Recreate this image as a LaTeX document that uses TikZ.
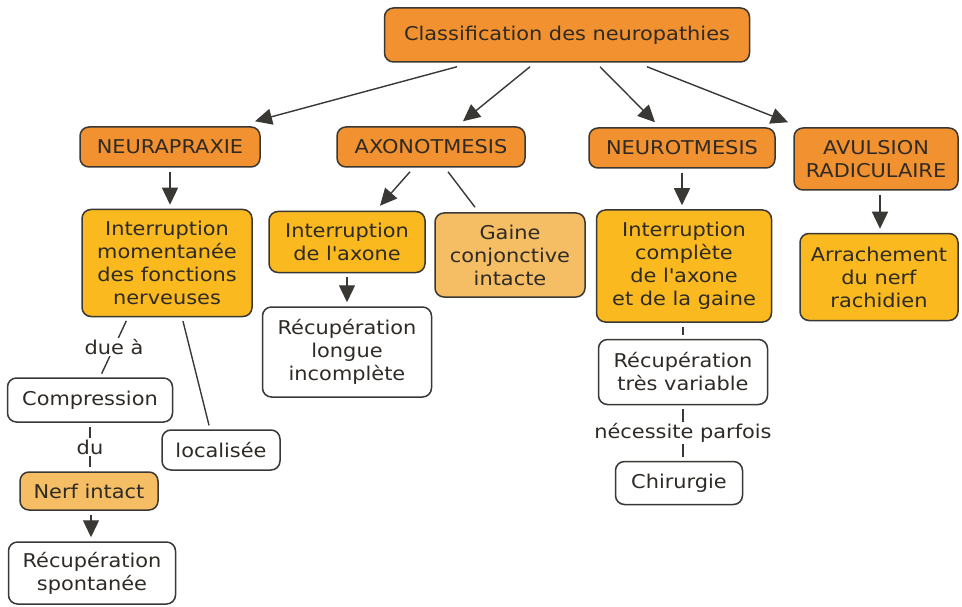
\documentclass[tikz,border=0pt]{standalone}
\usepackage{fontspec}
\setmainfont{DejaVu Sans}[FakeStretch=1.1]
\usetikzlibrary{arrows.meta}
\definecolor{hdr}{HTML}{F2912F}
\definecolor{mid}{HTML}{F9B91F}
\definecolor{pale}{HTML}{F5BE65}
\definecolor{edge}{HTML}{3A3835}
\definecolor{ink}{HTML}{2E2A26}

\begin{document}
\begin{tikzpicture}[x=1pt,y=-1pt,
  box/.style={draw=edge, line width=1.5pt, rounded corners=9pt, align=center,
              text=ink, inner sep=0pt, font=\fontsize{19}{23}\selectfont},
  hdrbox/.style={box, fill=hdr},
  midbox/.style={box, fill=mid},
  palebox/.style={box, fill=pale},
  plainbox/.style={box, fill=white},
  link/.style={draw=edge, line width=1.4pt},
  arr/.style={link, -{Triangle[length=17pt,width=16pt]}},
  gap/.style={shorten <=4pt, shorten >=4pt},
  lbl/.style={fill=white, text=ink, inner sep=1.5pt, font=\fontsize{19}{23}\selectfont}
]
\path[use as bounding box, fill=white] (0,0) rectangle (962,607);

% root
\node[hdrbox, minimum width=365pt, minimum height=54pt] (top) at (567,35) {Classification des neuropathies};

% four classes
\node[hdrbox, minimum width=180pt, minimum height=40pt] (neura) at (170,147) {NEURAPRAXIE};
\node[hdrbox, minimum width=188pt, minimum height=40pt] (axono) at (431,147) {AXONOTMESIS};
\node[hdrbox, minimum width=186pt, minimum height=40pt] (neuro) at (682,148) {NEUROTMESIS};
\node[hdrbox, minimum width=164pt, minimum height=62pt] (avul) at (876,159) {AVULSION\\RADICULAIRE};

% descriptions
\node[midbox, minimum width=170pt, minimum height=107pt] (imom) at (167,263) {Interruption\\momentanée\\des fonctions\\nerveuses};
\node[midbox, minimum width=156pt, minimum height=61pt] (iax) at (347,242) {Interruption\\de l\textquotesingle axone};
\node[palebox, minimum width=150pt, minimum height=84pt] (gaine) at (510,255) {Gaine\\conjonctive\\intacte};
\node[plainbox, minimum width=169pt, minimum height=90pt] (rlong) at (347,352) {Récupération\\longue\\incomplète};
\node[midbox, minimum width=175pt, minimum height=112pt] (icomp) at (684,266) {Interruption\\complète\\de l\textquotesingle axone\\et de la gaine};
\node[midbox, minimum width=158pt, minimum height=87pt] (arrach) at (879,277) {Arrachement\\du nerf\\rachidien};
\node[plainbox, minimum width=169pt, minimum height=65pt] (rvar) at (683,372) {Récupération\\très variable};
\node[plainbox, minimum width=127pt, minimum height=43pt] (chir) at (679,483) {Chirurgie};
\node[plainbox, minimum width=165pt, minimum height=44pt] (comp) at (90,400) {Compression};
\node[plainbox, minimum width=118pt, minimum height=40pt] (loc) at (221,450) {localisée};
\node[palebox, minimum width=138pt, minimum height=38pt] (nerf) at (89,491) {Nerf intact};
\node[plainbox, minimum width=167pt, minimum height=62pt] (rspont) at (92,573) {Récupération\\spontanée};

% root to classes
\draw[arr] ([xshift=-110pt,yshift=-4pt]top.south) -- ([xshift=85pt,yshift=5pt]neura.north);
\draw[arr] ([xshift=-37pt,yshift=-4pt]top.south) -- ([xshift=32pt,yshift=5pt]axono.north);
\draw[arr] ([xshift=33pt,yshift=-4pt]top.south) -- ([xshift=-27pt,yshift=5pt]neuro.north);
\draw[arr] ([xshift=80pt,yshift=-4pt]top.south) -- ([xshift=-88pt,yshift=5pt]avul.north);

% classes to descriptions
\draw[arr, gap] (neura.south) -- (neura.south |- imom.north);
\draw[arr] ([xshift=-21pt,yshift=-4pt]axono.south) -- ([xshift=33pt,yshift=5pt]iax.north);
\draw[link] ([xshift=17pt,yshift=-4pt]axono.south) -- ([xshift=-35pt,yshift=5pt]gaine.north);
\draw[arr, gap] (iax.south) -- (rlong.north);
\draw[arr, gap] (neuro.south) -- (neuro.south |- icomp.north);
\draw[arr, gap] ([xshift=4pt]avul.south) -- ([xshift=4pt]avul.south |- arrach.north);

% neurotmesis chain
\draw[link, gap] (rvar.north |- icomp.south) -- (rvar.north);
\draw[link, gap] (rvar.south) -- node[lbl] {nécessite parfois} (rvar.south |- chir.north);

% neurapraxie chain
\draw[link, gap] ([xshift=-39pt]imom.south) -- node[lbl] {due à} ([xshift=10pt]comp.north);
\draw[link, gap] ([xshift=15pt]imom.south) -- ([xshift=-11pt]loc.north);
\draw[link, gap] (comp.south) -- node[lbl] {du} (comp.south |- nerf.north);
\draw[arr, gap] ([xshift=2pt]nerf.south) -- ([xshift=2pt]nerf.south |- rspont.north);
\end{tikzpicture}
\end{document}
